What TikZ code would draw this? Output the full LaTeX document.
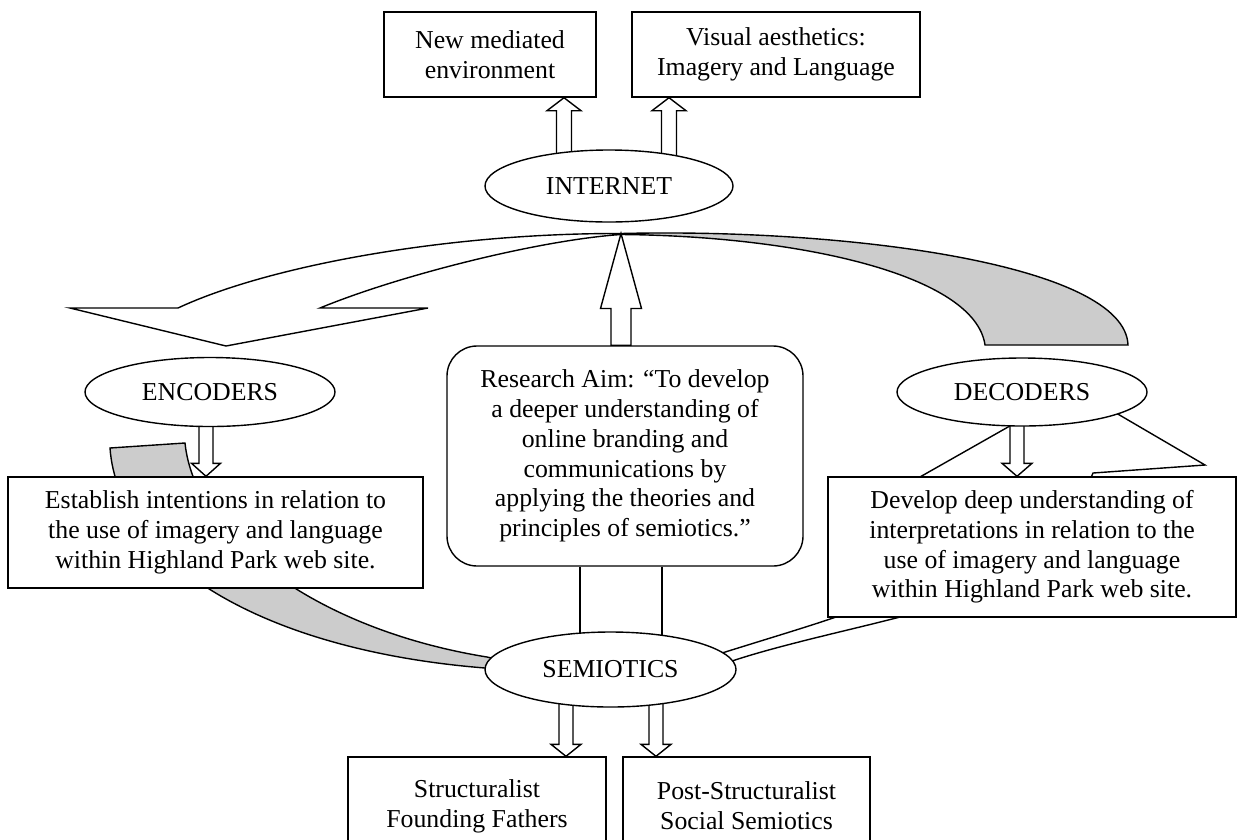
\documentclass[tikz,border=0pt]{standalone}
\usepackage{fontspec}
\setmainfont{Liberation Serif}
\usetikzlibrary{shapes.geometric,calc,backgrounds}
\definecolor{bandgray}{HTML}{CCCCCC}
% block arrow: #1 tail, #2 tip, #3 shaft half width, #4 head half width, #5 head length
\newcommand\blockarr[5]{%
  \coordinate (ta) at (#1);
  \coordinate (tp) at (#2);
  \coordinate (hb) at ($(tp)!#5pt!(ta)$);
  \draw[blk] ($(ta)!#3pt!90:(hb)$) -- ($(hb)!#3pt!-90:(ta)$) -- ($(hb)!#4pt!-90:(ta)$)
    -- (tp) -- ($(hb)!#4pt!90:(ta)$) -- ($(hb)!#3pt!90:(ta)$) -- ($(ta)!#3pt!-90:(hb)$) -- cycle;
}
\begin{document}
\begin{tikzpicture}[x=1pt,y=-1pt,line width=1.4pt,line join=miter,
  every node/.style={font=\fontsize{25.8}{29.7}\selectfont},
  box/.style={draw,fill=white,rectangle,align=center,inner sep=0pt},
  oval/.style={draw,fill=white,ellipse,inner sep=0pt},
  blk/.style={draw,fill=white,line width=1.4pt,line join=miter},
  band/.style={draw,fill=bandgray,line width=1.4pt,line join=miter},
  wband/.style={draw,fill=white,line width=1.4pt,line join=miter},
  conn/.style={draw,line width=1.4pt}]
\useasboundingbox (0,0) rectangle (1238,839);

% nodes
\node[box,minimum width=212pt,minimum height=85pt] (nme) at (490,54.5) {New mediated\\environment};
\node[box,minimum width=288pt,minimum height=85pt] (va) at (776,54.5) {Visual aesthetics:\\Imagery and Language};
\node[oval,minimum width=248pt,minimum height=72pt] (internet) at (609,186) {INTERNET};
\node[oval,minimum width=250pt,minimum height=69pt] (encoders) at (210,392) {ENCODERS};
\node[oval,minimum width=250pt,minimum height=68pt] (decoders) at (1022,392) {DECODERS};
\node[box,rounded corners=30pt,minimum width=356pt,minimum height=220pt] (research) at (625,456)
  {Research Aim: “To develop\\a deeper understanding of\\online branding and\\communications by\\applying the theories and\\principles of semiotics.”};
\node[box,minimum width=415pt,minimum height=111pt] (establish) at (215.5,532.5)
  {Establish intentions in relation to\\the use of imagery and language\\within Highland Park web site.};
\node[box,minimum width=408pt,minimum height=140pt] (develop) at (1032,547)
  {Develop deep understanding of\\interpretations in relation to the\\use of imagery and language\\within Highland Park web site.};
\node[oval,minimum width=251pt,minimum height=75pt] (semiotics) at (610.5,669.5) {SEMIOTICS};
\node[box,minimum width=258pt,minimum height=98pt] (b1) at (477,806) {Structuralist\\Founding Fathers};
\node[box,minimum width=247pt,minimum height=98pt] (b2) at (746.5,806) {Post-Structuralist\\Social Semiotics};

\coordinate (apex) at (621,233.5);

\begin{scope}[on background layer]
  % top right gray band
  \draw[band] (apex) .. controls (850,228) and (1125,265) .. (1128,345)
    -- (985,345) .. controls (975,275) and (800,236) .. (621,234.5) -- cycle;
  % top left white arrow towards encoders
  \draw[wband] (apex) .. controls (450,233) and (270,265) .. (178,308)
    -- (70,308) -- (226,346) -- (428,308) -- (320,308)
    .. controls (400,275) and (540,240) .. (621,234.5) -- cycle;
  % arrow from research aim up to the loop
  \blockarr{$(research.north)+(-4,0)$}{apex}{10}{20.5}{75}
  % left gray band semiotics -> behind establish box
  \draw[band] (110,448) -- (185,443) .. controls (195,540) and (320,630) .. (487,657)
    -- (505,661) -- (505,669) -- (485,668) .. controls (260,650) and (118,560) .. (110,448) -- cycle;
  % right white band semiotics -> decoders
  \draw[wband] (705,658.5) -- (722,653) .. controls (770,638) and (810,626) .. (836,617)
    -- (860,560) -- (897,490) -- (1075,389) -- (1205,465) -- (1093,473) -- (1090,480)
    -- (1085,520) -- (900,617) .. controls (850,630) and (780,645) .. (732,661) -- (705,668) -- cycle;
  % connectors research -> semiotics
  \draw[conn] ($(research.south)+(-45,0)$) -- ($(semiotics.center)+(-30.5,0)$);
  \draw[conn] ($(research.south)+(37,0)$) -- ($(semiotics.center)+(51.5,0)$);
  % block arrows
  \blockarr{$(internet.center)+(-45,0)$}{$(nme.south)+(74,0)$}{7.5}{17}{13}
  \blockarr{$(internet.center)+(60,0)$}{$(va.south)+(-107,0)$}{7.5}{17}{13}
  \blockarr{$(encoders.center)+(-4,0)$}{$(establish.north)+(-9.5,0)$}{7}{14.5}{13}
  \blockarr{$(decoders.center)+(-5,0)$}{$(develop.north)+(-15,0)$}{7}{15}{13}
  \blockarr{$(semiotics.center)+(-44.5,0)$}{$(b1.north)+(89,0)$}{7}{15}{12}
  \blockarr{$(semiotics.center)+(45.5,0)$}{$(b2.north)+(-90.5,0)$}{7}{15}{12}
\end{scope}
\end{tikzpicture}
\end{document}
